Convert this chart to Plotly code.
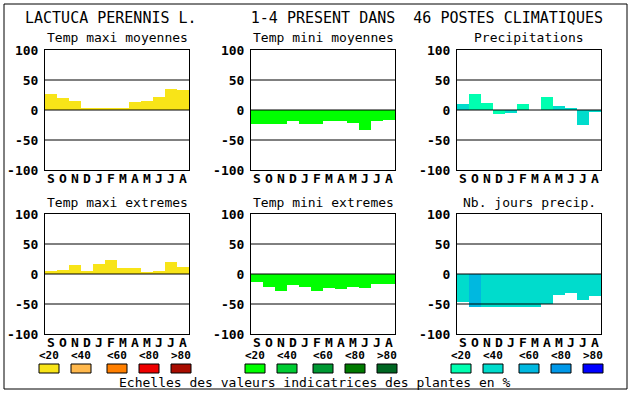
import plotly.graph_objects as go

W, H = 630, 394
months = ["S", "O", "N", "D", "J", "F", "M", "A", "M", "J", "J", "A"]
yticks = [-100, -50, 0, 50, 100]

tmax_moy = [27, 20, 15, 3, 2, 3, 2, 13, 15, 22, 35, 33]
tmin_moy = [-23, -23, -23, -18, -23, -23, -18, -18, -21, -33, -18, -17]
precip = [10, 27, 12, -6, -5, 10, 0, 22, 7, 2, -25, -3]
precip_class = [1, 0, 0, 0, 1, 0, 0, 0, 1, 1, 1, 1]
tmax_ext = [5, 7, 15, 5, 17, 23, 10, 10, 2, 5, 20, 12]
tmin_ext = [-13, -22, -28, -18, -22, -28, -23, -25, -22, -23, -17, -17]
jours = [-47, -55, -55, -55, -55, -55, -55, -50, -35, -32, -43, -37]
jours_class = [1, 2, 1, 1, 1, 1, 1, 1, 1, 1, 1, 1]

warm = ["#f8e418", "#ffb84c", "#ff7f00", "#ee0000", "#a80c00"]
green = ["#00ff00", "#00cc33", "#009933", "#007a00", "#006622"]
blue = ["#00ffb0", "#00dccc", "#00b8e0", "#0098e8", "#0000ff"]
legend_labels = ["<20", "<40", "<60", "<80", ">80"]

title = "LACTUCA PERENNIS L.      1-4 PRESENT DANS  46 POSTES CLIMATIQUES"
panel_titles = ["Temp maxi moyennes", "Temp mini moyennes", "Precipitations",
                "Temp maxi extremes", "Temp mini extremes", "Nb. jours precip."]
footer = "Echelles des valeurs indicatrices des plantes en %"

FONT = "DejaVu Sans Mono"

panels = [
    (tmax_moy, [warm[0]] * 12),
    (tmin_moy, [green[0]] * 12),
    (precip, [blue[c] for c in precip_class]),
    (tmax_ext, [warm[0]] * 12),
    (tmin_ext, [green[0]] * 12),
    (jours, [blue[c] for c in jours_class]),
]

lefts = [45, 251, 457]
pw = 144
tops = [50, 214]
ph = 120

def px_x(x):
    return x / W

def px_y(y):
    return 1 - y / H

fig = go.Figure()
annotations = []
shapes = []
x_idx = list(range(12))

for i, (vals, cols) in enumerate(panels):
    r, c = divmod(i, 3)
    n = i + 1
    xa = "x" if n == 1 else f"x{n}"
    ya = "y" if n == 1 else f"y{n}"
    fig.add_trace(go.Bar(x=x_idx, y=vals, marker=dict(color=cols, line=dict(width=0)),
                         xaxis=xa, yaxis=ya, showlegend=False, hoverinfo="skip"))
    L = lefts[c]
    T = tops[r]
    xkey = "xaxis" if n == 1 else f"xaxis{n}"
    ykey = "yaxis" if n == 1 else f"yaxis{n}"
    fig.layout[xkey] = dict(domain=[px_x(L), px_x(L + pw)], range=[-0.5, 11.5],
                            anchor=ya, showgrid=False, zeroline=False, automargin=False,
                            tickvals=x_idx, ticktext=[f"<b>{m}</b>" for m in months],
                            tickfont=dict(family=FONT, size=13, color="black"),
                            showline=True, linecolor="black", linewidth=1, mirror=True,
                            ticks="", ticklabelstandoff=-4, fixedrange=True)
    fig.layout[ykey] = dict(domain=[px_y(T + ph), px_y(T)], range=[-100, 100],
                            anchor=xa, showgrid=False, zeroline=False, automargin=False,
                            tickvals=yticks, ticktext=[f"<b>{v}</b>" for v in yticks],
                            tickfont=dict(family=FONT, size=13, color="black"),
                            showline=True, linecolor="black", linewidth=1, mirror=True,
                            ticks="outside", ticklen=3, tickcolor="rgba(0,0,0,0)",
                            fixedrange=True)
    for v in (-50, 0, 50):
        shapes.append(dict(type="line", xref=f"{xa} domain", yref=ya, x0=0, x1=1,
                           y0=v, y1=v, line=dict(color="black", width=1), layer="above"))
    annotations.append(dict(text=panel_titles[i], x=px_x(L + pw / 2), y=px_y(T - 12),
                            xref="paper", yref="paper", showarrow=False,
                            xanchor="center", yanchor="middle",
                            font=dict(family=FONT, size=13, color="black")))

# legend
offsets = [0, 32, 68, 100, 132]
for g, pal in enumerate([warm, green, blue]):
    base = lefts[g] - 6
    for k in range(5):
        x0 = base + offsets[k]
        shapes.append(dict(type="rect", xref="paper", yref="paper",
                           x0=px_x(x0), x1=px_x(x0 + 20), y0=px_y(373), y1=px_y(364),
                           fillcolor=pal[k], line=dict(color="black", width=1)))
        annotations.append(dict(text=f"<b>{legend_labels[k]}</b>", x=px_x(x0 + 10),
                                y=px_y(355), xref="paper", yref="paper", showarrow=False,
                                xanchor="center", yanchor="middle",
                                font=dict(family=FONT, size=11, color="black")))

annotations.append(dict(text=title, x=px_x(314), y=px_y(18), xref="paper", yref="paper",
                        showarrow=False, xanchor="center", yanchor="middle",
                        font=dict(family=FONT, size=15, color="black")))
annotations.append(dict(text=footer, x=px_x(315), y=px_y(382), xref="paper", yref="paper",
                        showarrow=False, xanchor="center", yanchor="middle",
                        font=dict(family=FONT, size=13, color="black")))

shapes.append(dict(type="rect", xref="paper", yref="paper", x0=px_x(4), x1=px_x(627),
                   y0=px_y(389), y1=px_y(4), line=dict(color="black", width=1)))

fig.update_layout(width=W, height=H,
                  margin=dict(l=0, r=0, t=0, b=0, pad=0, autoexpand=False),
                  paper_bgcolor="white", plot_bgcolor="white", bargap=0,
                  shapes=shapes, annotations=annotations, showlegend=False)

post = ("var d=document.getElementById('{plot_id}');"
        "d.style.position='fixed';d.style.top='0px';d.style.left='0px';"
        "document.body.style.margin='0px';document.body.style.padding='0px';"
        "document.documentElement.style.overflow='hidden';")

fig.write_html("out.html", config={"displayModeBar": False}, post_script=post)
